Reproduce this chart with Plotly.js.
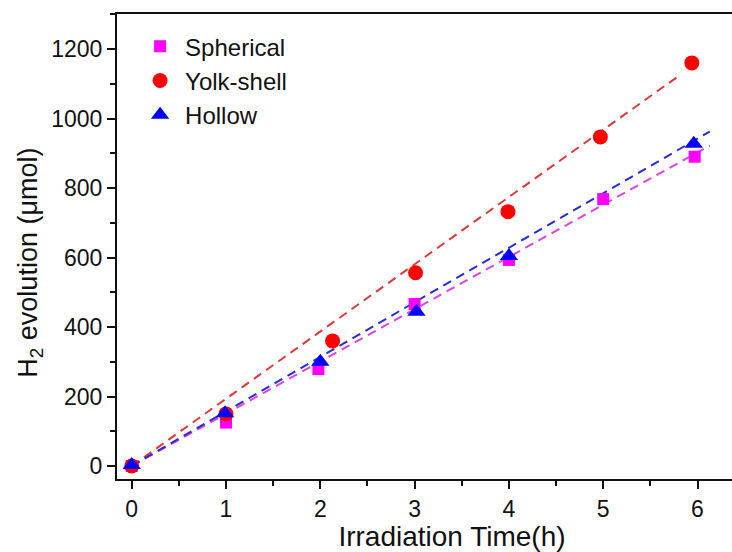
<!DOCTYPE html>
<html>
<head>
<meta charset="utf-8">
<script src="https://cdn.plot.ly/plotly-3.0.1.min.js"></script>
<style>
html, body { margin: 0; padding: 0; overflow: hidden; background: #fff; width: 732px; height: 552px; }
#chart { width: 790px; height: 552px; }
</style>
</head>
<body>
<div id="chart"></div>
<script>
// Data
const seriesNames = ["Spherical", "Yolk-shell", "Hollow"];
const sphericalX = [0, 1, 1.98, 3, 4, 5, 5.97];
const sphericalY = [0, 125, 279, 466, 593, 768, 890];
const yolkX = [0, 1, 2.13, 3.01, 3.99, 4.97, 5.94];
const yolkY = [0, 150, 360, 556, 732, 947, 1160];
const hollowX = [0, 0.99, 2, 3.02, 4, 5.96];
const hollowY = [3, 152, 300, 444, 604, 927];
// Linear fits (slope through origin) and their x extents
const fitSlope = [150.4, 193.5, 157];
const fitXStart = [0, 0, 0];
const fitXEnd = [6.13, 5.8, 6.13];
const xTickVals = [0, 1, 2, 3, 4, 5, 6];
const yTickVals = [0, 200, 400, 600, 800, 1000, 1200];
const xTitle = "Irradiation Time(h)";
const yTitle = "H<sub>2</sub> evolution (μmol)";

const markerColors = ["#ff00ff", "#ff0000", "#0000ff"];
const lineColors = ["#dd44dd", "#d83a3a", "#2a2ad0"];
const symbols = ["square", "circle", "triangle-up"];
const sizes = [12, 15, 16];
const xs = [sphericalX, yolkX, hollowX];
const ys = [sphericalY, yolkY, hollowY];

const font = "Liberation Sans, Arial, sans-serif";
const traces = [];
for (let i = 0; i < 3; i++) {
  const lx = [fitXStart[i], fitXEnd[i]];
  traces.push({
    x: lx, y: lx.map(v => v * fitSlope[i]),
    mode: "lines", type: "scatter", showlegend: false, hoverinfo: "skip",
    line: { color: lineColors[i], width: 2, dash: "9px,6px" }
  });
}
for (let i = 0; i < 3; i++) {
  traces.push({
    x: xs[i], y: ys[i], name: seriesNames[i],
    mode: "markers", type: "scatter",
    marker: { symbol: symbols[i], color: markerColors[i], size: sizes[i], line: { width: 0 } }
  });
}

const layout = {
  width: 790, height: 552,
  margin: { l: 117, r: 3, t: 14, b: 73 },
  paper_bgcolor: "#fff", plot_bgcolor: "#fff",
  font: { family: font, color: "#111", size: 22 },
  showlegend: true,
  legend: {
    x: 0.027, y: 0.978, xanchor: "left", yanchor: "top",
    bgcolor: "rgba(0,0,0,0)", font: { family: font, size: 24, color: "#111" },
    itemwidth: 40, tracegroupgap: 0
  },
  xaxis: {
    range: [-0.156, 6.949], showgrid: false, zeroline: false,
    showline: true, linecolor: "#111", linewidth: 2, mirror: true,
    ticks: "outside", ticklen: 8, tickwidth: 2, tickcolor: "#111",
    tickvals: xTickVals, tickfont: { family: font, size: 23, color: "#111" },
    minor: { dtick: 0.5, ticks: "outside", ticklen: 5, tickwidth: 2, tickcolor: "#111", showgrid: false },
    title: { text: xTitle, font: { family: font, size: 28, color: "#111" }, standoff: 4 }
  },
  yaxis: {
    range: [-37.4, 1300.7], showgrid: false, zeroline: false,
    showline: true, linecolor: "#111", linewidth: 2, mirror: false,
    ticks: "outside", ticklen: 8, tickwidth: 2, tickcolor: "#111",
    tickvals: yTickVals, tickfont: { family: font, size: 23, color: "#111" },
    minor: { dtick: 100, ticks: "outside", ticklen: 5, tickwidth: 2, tickcolor: "#111", showgrid: false },
    title: { text: "" }
  },
  annotations: [{
    text: yTitle, xref: "paper", yref: "paper",
    x: -0.13, y: 0.465, xanchor: "center", yanchor: "middle",
    textangle: -90, showarrow: false,
    font: { family: font, size: 27, color: "#111" }
  }]
};

Plotly.newPlot("chart", traces, layout, { displayModeBar: false, staticPlot: true });
</script>
</body>
</html>
